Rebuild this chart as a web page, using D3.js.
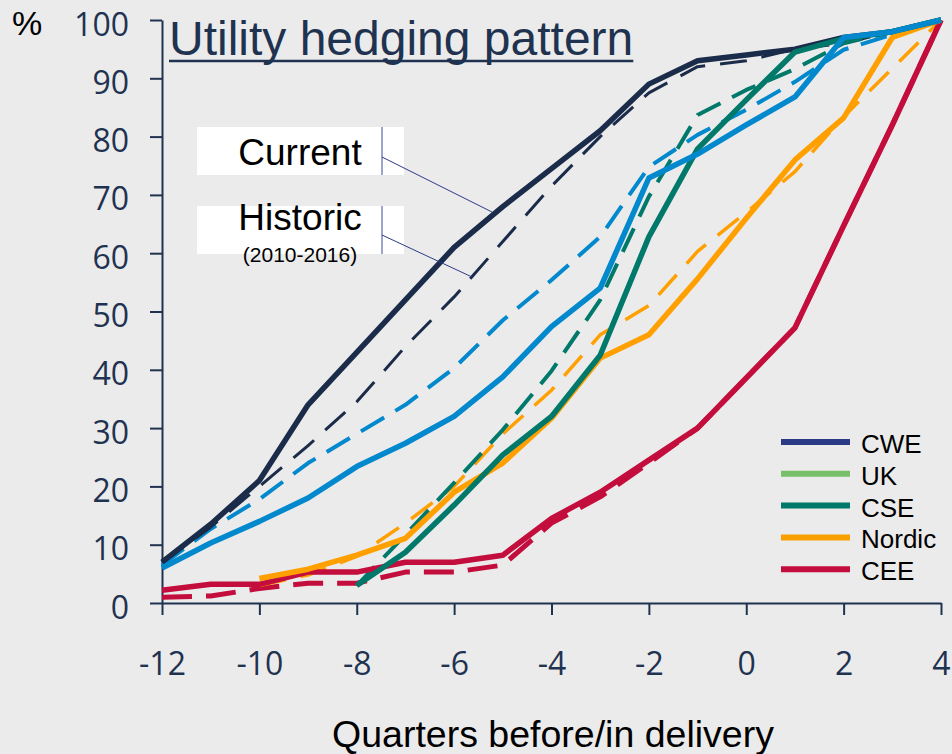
<!DOCTYPE html>
<html>
<head>
<meta charset="utf-8">
<script src="https://cdn.jsdelivr.net/npm/d3@7"></script>
<style>
  html, body { margin: 0; padding: 0; background: #ebebeb; }
  svg { display: block; }
</style>
</head>
<body>
<svg id="chart" width="952" height="754"></svg>
<script>
// Quarters relative to delivery
const quarters = [-12, -11, -10, -9, -8, -7, -6, -5, -4, -3, -2, -1, 0, 1, 2, 3, 4];
const xTicks = [-12, -10, -8, -6, -4, -2, 0, 2, 4];
const yTicks = [0, 10, 20, 30, 40, 50, 60, 70, 80, 90, 100];

// Hedged share (%) per quarter, current pattern (solid) and historic 2010-2016 (dashed)
const cweCurrent   = [7, 13.5, 21, 34, 43, 52, 61, 68, 74.5, 81, 89, 93, 94, 95, 97, 98, 100];
const cweHistoric  = [7, 13, 20, 27, 34.5, 44, 52.5, 62, 71.5, 80, 87.5, 92, 93, 95, 96, 98, 100];
const ukCurrent    = [6, 10.3, 14, 18, 23.4, 27.4, 32, 38.8, 47.4, 54, 72.9, 77, 82, 86.8, 97, 98, 100];
const ukHistoric   = [6.5, 12.7, 17.8, 24, 29, 34, 40.3, 48.5, 55.4, 62.8, 74.8, 80.3, 84.6, 89.4, 94.9, 97.5, 100];
const cseCurrent   = [null, null, null, null, 3, 8.7, 16.8, 25.4, 32, 42.5, 62.8, 77.9, 86.3, 94.5, 96.8, 98, 100];
const cseHistoric  = [null, null, null, null, 3, 11.7, 20.6, 29.7, 39.8, 52, 69.7, 83.7, 88, 91.6, 96, 98, 100];
const nordicCurrent  = [null, null, 4.2, 5.8, 8.2, 11.1, 19, 24, 31.7, 42, 46, 55.6, 66, 76, 83.2, 97, 100];
const nordicHistoric = [null, null, 3, 4.8, 8, 13.7, 20, 29, 36.5, 46, 51, 60.3, 67, 74, 83.4, 91.7, 100];
const ceeCurrent   = [2.2, 3.2, 3.2, 5.3, 5.3, 7, 7, 8.2, 14.5, 19, 24.5, 30, 38.6, 47.2, 64.7, 82, 100];
const ceeHistoric  = [1, 1.2, 2.5, 3.4, 3.4, 5.3, 5.3, 6.5, 13.7, 18.2, 24, 30, 38.6, 47.2, 64.7, 82, 100];

const legendNames  = ["CWE", "UK", "CSE", "Nordic", "CEE"];
const legendColors = ["#2b3a85", "#77bf68", "#00796b", "#f9a000", "#c30d3c"];

const navy = "#1f3350";
const svg = d3.select("#chart");

const x = d3.scaleLinear().domain([-12, 4]).range([162, 941]);
const y = d3.scaleLinear().domain([0, 100]).range([603, 20]);

// Axes
const yAxis = svg.append("g")
  .attr("transform", "translate(162,0)")
  .call(d3.axisLeft(y).tickValues(yTicks).tickSize(12).tickSizeOuter(0).tickPadding(21));
const xAxis = svg.append("g")
  .attr("transform", "translate(0,603)")
  .call(d3.axisBottom(x).tickValues(xTicks).tickFormat(d => String(d))
    .tickSize(12).tickSizeOuter(0).tickPadding(37));

[yAxis, xAxis].forEach(g => {
  g.select(".domain").attr("stroke", navy).attr("stroke-width", 2);
  g.selectAll(".tick line").attr("stroke", navy).attr("stroke-width", 2);
  g.selectAll(".tick text")
    .attr("fill", navy)
    .style("font-family", "'Open Sans', sans-serif")
    .style("font-size", "32px");
});
yAxis.selectAll(".tick text").attr("dy", "0.47em");
xAxis.selectAll(".tick text").attr("dy", "0.71em");

// "%" unit label
svg.append("text")
  .attr("x", 12).attr("y", 35)
  .style("font-family", "'Liberation Sans', Arial, sans-serif")
  .style("font-size", "34px")
  .attr("fill", "#000")
  .text("%");

// Axis title
svg.append("text")
  .attr("x", 553).attr("y", 747)
  .attr("text-anchor", "middle")
  .style("font-family", "'Liberation Sans', Arial, sans-serif")
  .style("font-size", "37.5px")
  .attr("fill", "#000")
  .text("Quarters before/in delivery");

// Chart title, underlined
const title = svg.append("text")
  .attr("x", 169).attr("y", 55)
  .style("font-family", "'Liberation Sans', Arial, sans-serif")
  .style("font-size", "48px")
  .attr("fill", navy)
  .text("Utility hedging pattern");
const tb = title.node().getBBox();
svg.append("line")
  .attr("x1", tb.x).attr("x2", tb.x + tb.width)
  .attr("y1", 61).attr("y2", 61)
  .attr("stroke", navy).attr("stroke-width", 2.5);

// Lines
const line = d3.line()
  .defined(d => d != null)
  .x((d, i) => x(quarters[i]))
  .y(d => y(d));

const series = [
  { values: ukHistoric,     color: "#0288cc", width: 4,   dash: "27,13" },
  { values: cweHistoric,    color: "#1b2c4a", width: 3,   dash: "27,15" },
  { values: ceeHistoric,    color: "#c30d3c", width: 5,   dash: "30,14" },
  { values: nordicHistoric, color: "#ffa000", width: 3.5, dash: "27,15" },
  { values: cseHistoric,    color: "#00796b", width: 4,   dash: "26,13" },
  { values: cweCurrent,     color: "#1b2c4a", width: 5.5, dash: null },
  { values: ceeCurrent,     color: "#c30d3c", width: 5.5, dash: null },
  { values: nordicCurrent,  color: "#ffa000", width: 5.5, dash: null },
  { values: cseCurrent,     color: "#00796b", width: 5.5, dash: null },
  { values: ukCurrent,      color: "#0288cc", width: 5.5, dash: null }
];

svg.append("g").selectAll("path")
  .data(series)
  .join("path")
  .attr("d", d => line(d.values))
  .attr("fill", "none")
  .attr("stroke", d => d.color)
  .attr("stroke-width", d => d.width)
  .attr("stroke-dasharray", d => d.dash)
  .attr("stroke-linejoin", "round");

// Callout labels
const callouts = [
  { text: "Current",  top: 127, baseline: 165, sub: null,          target: [492, 212], anchorY: 157 },
  { text: "Historic", top: 206, baseline: 230, sub: "(2010-2016)", target: [472, 277], anchorY: 235 }
];
const cg = svg.append("g");
callouts.forEach(c => {
  cg.append("rect")
    .attr("x", 197).attr("y", c.top).attr("width", 207).attr("height", 48)
    .attr("fill", "#fff");
  cg.append("line")
    .attr("x1", 382).attr("x2", 382).attr("y1", c.top).attr("y2", c.top + 48)
    .attr("stroke", "#3a4a9a").attr("stroke-width", 1);
  cg.append("line")
    .attr("x1", 382).attr("y1", c.anchorY).attr("x2", c.target[0]).attr("y2", c.target[1])
    .attr("stroke", "#2e3a85").attr("stroke-width", 1);
  cg.append("text")
    .attr("x", 300).attr("y", c.baseline)
    .attr("text-anchor", "middle")
    .style("font-family", "'Liberation Sans', Arial, sans-serif")
    .style("font-size", "37px")
    .attr("fill", "#000")
    .text(c.text);
  if (c.sub) {
    cg.append("text")
      .attr("x", 300).attr("y", 262)
      .attr("text-anchor", "middle")
      .style("font-family", "'Liberation Sans', Arial, sans-serif")
      .style("font-size", "21px")
      .attr("fill", "#000")
      .text(c.sub);
  }
});

// Legend
const lg = svg.append("g").attr("transform", "translate(781,442)");
const items = lg.selectAll("g").data(legendNames).join("g")
  .attr("transform", (d, i) => `translate(0,${i * 31.8})`);
items.append("line")
  .attr("x1", 0).attr("x2", 69).attr("y1", 0).attr("y2", 0)
  .attr("stroke", (d, i) => legendColors[i]).attr("stroke-width", 6);
items.append("text")
  .attr("x", 80).attr("y", 11)
  .style("font-family", "'Liberation Sans', Arial, sans-serif")
  .style("font-size", "26px")
  .attr("fill", "#000")
  .text(d => d);
</script>
</body>
</html>
